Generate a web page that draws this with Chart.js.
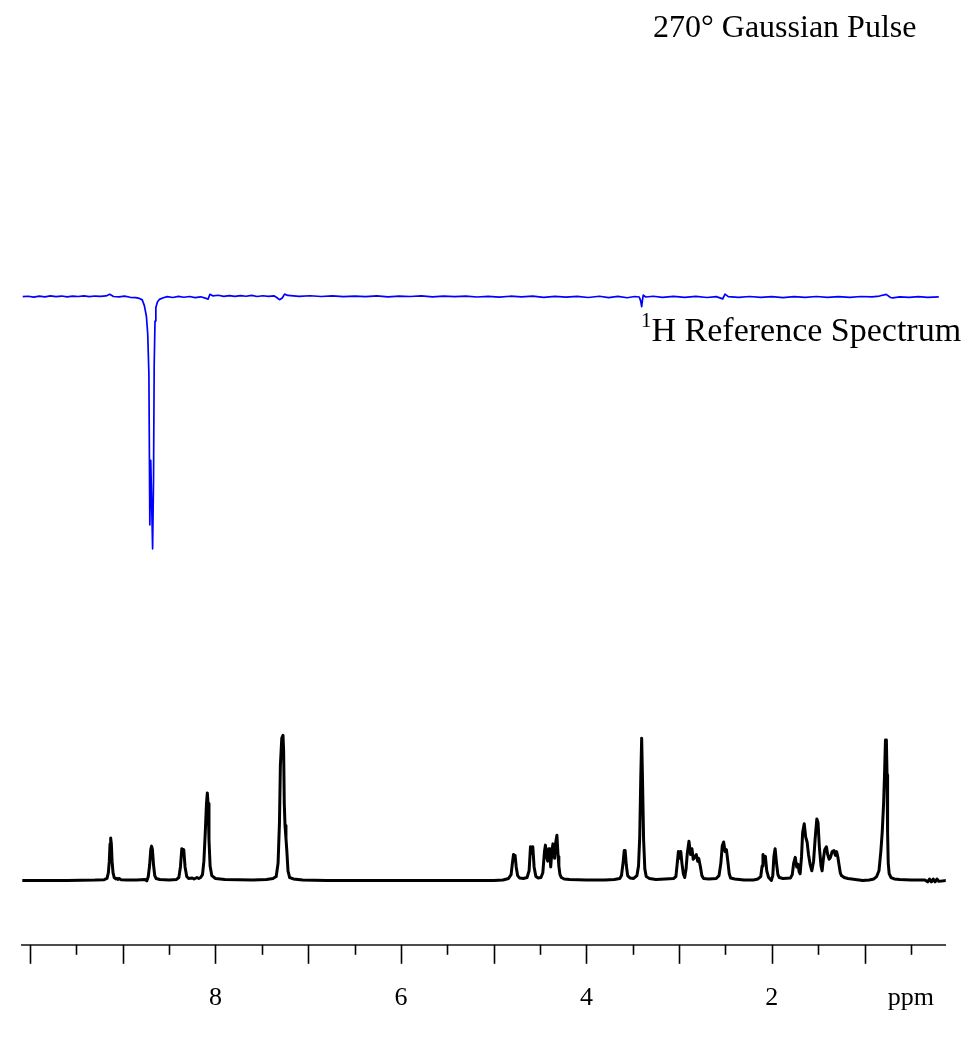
<!DOCTYPE html>
<html>
<head>
<meta charset="utf-8">
<title>270° Gaussian Pulse vs 1H Reference Spectrum</title>
<script src="https://cdn.jsdelivr.net/npm/chart.js@4.4.1/dist/chart.umd.min.js"></script>
<style>
  html, body { margin: 0; padding: 0; background: #fff; }
  #wrap { position: relative; width: 964px; height: 1046px; }
  .label {
    position: absolute;
    font-family: "Liberation Serif", "Times New Roman", serif;
    font-size: 32px;
    line-height: 1;
    color: #000;
    white-space: nowrap;
  }
  .label sup { font-size: 21px; line-height: 0; position: relative; top: -2px; vertical-align: super; }
  #pulseLabel { left: 653px; top: 10px; }
  #refLabel   { left: 641px; top: 313px; font-size: 34px; }
</style>
</head>
<body>
<div id="wrap">
  <canvas id="nmrChart"></canvas>
  <div class="label" id="pulseLabel">270° Gaussian Pulse</div>
  <div class="label" id="refLabel"><sup>1</sup>H Reference Spectrum</div>
</div>

<script>
// ppm axis
const ppmMin = 0.125;
const ppmMax = 10.083;
const labeledTicks = [8, 6, 4, 2];
const unitTick  = 0.5;
const unitLabel = 'ppm';

// 1H reference spectrum, [ppm, intensity]
const refPoints = [
  [10.1, 0], [9.6, 0], [9.3, 0.3], [9.2, 0.8], [9.17, 2], [9.155, 8], [9.145, 20], [9.137, 38],
  [9.13, 44], [9.123, 38], [9.115, 20], [9.105, 8], [9.092, 3], [9.075, 1.5], [9.062, 2.2],
  [9.05, 1], [9.038, 2], [9.02, 0.8], [8.95, 0.5], [8.85, 0.5], [8.76, 1], [8.74, -0.5],
  [8.725, 4], [8.71, 16], [8.698, 32], [8.689, 35.7], [8.68, 32], [8.668, 16], [8.655, 5],
  [8.64, 2], [8.6, 1], [8.5, 0.5], [8.42, 1], [8.395, 3], [8.378, 14], [8.363, 33], [8.352, 28],
  [8.342, 32], [8.328, 14], [8.31, 4], [8.29, 2], [8.25, 2.5], [8.23, 1.5], [8.2, 3], [8.18, 2],
  [8.16, 3], [8.14, 6], [8.125, 20], [8.11, 50], [8.097, 80], [8.088, 91], [8.08, 80], [8.07, 42],
  [8.058, 15], [8.04, 5], [8.0, 2], [7.9, 1], [7.6, 0.5], [7.45, 1], [7.38, 2], [7.345, 4],
  [7.325, 18], [7.31, 60], [7.3, 120], [7.285, 148], [7.272, 151], [7.265, 135], [7.258, 80],
  [7.25, 57], [7.24, 44], [7.23, 30], [7.218, 10], [7.2, 3], [7.16, 1.5], [7.06, 0.5], [6.8, 0],
  [5.0, 0], [4.9, 0.5], [4.84, 2], [4.812, 6], [4.798, 18], [4.786, 27], [4.778, 23], [4.769, 26],
  [4.757, 14], [4.742, 5], [4.72, 2.5], [4.68, 2], [4.64, 3], [4.618, 10], [4.603, 35], [4.59, 28],
  [4.578, 35], [4.564, 14], [4.545, 4], [4.52, 2.5], [4.49, 3], [4.47, 8], [4.452, 30], [4.442, 36.7],
  [4.43, 25], [4.417, 20], [4.405, 33], [4.396, 33], [4.385, 14], [4.372, 30], [4.361, 38],
  [4.35, 25], [4.343, 23], [4.33, 40], [4.318, 47], [4.305, 25], [4.297, 15], [4.285, 6], [4.27, 3],
  [4.24, 1.5], [4.18, 1], [4.0, 0.5], [3.8, 0.5], [3.7, 1], [3.64, 2], [3.622, 5], [3.605, 18],
  [3.592, 31], [3.582, 31], [3.57, 16], [3.555, 5], [3.53, 2.5], [3.49, 2], [3.455, 5], [3.438, 15],
  [3.425, 45], [3.414, 105], [3.404, 148], [3.395, 105], [3.383, 42], [3.37, 12], [3.355, 4],
  [3.32, 2], [3.25, 1], [3.15, 1.5], [3.06, 2], [3.035, 4], [3.018, 20], [3.008, 30], [2.995, 23],
  [2.982, 30], [2.97, 18], [2.955, 7], [2.94, 3], [2.925, 12], [2.912, 28], [2.894, 40.7],
  [2.877, 27], [2.862, 33], [2.848, 22], [2.834, 24], [2.815, 27], [2.8, 20], [2.789, 23],
  [2.77, 14], [2.755, 5], [2.736, 2], [2.68, 1.5], [2.6, 2], [2.57, 5], [2.55, 18], [2.535, 36],
  [2.52, 40], [2.505, 30], [2.49, 32], [2.475, 20], [2.46, 7], [2.445, 2.5], [2.4, 1.5], [2.3, 0.5],
  [2.2, 0.5], [2.15, 1.5], [2.12, 4], [2.105, 15], [2.096, 27], [2.085, 20], [2.07, 25], [2.055, 10],
  [2.035, 3], [2.005, 0], [1.99, 5], [1.978, 25], [1.965, 33], [1.95, 18], [1.935, 6], [1.92, 3],
  [1.88, 2], [1.8, 2.5], [1.78, 6], [1.765, 18], [1.748, 24], [1.732, 14], [1.718, 16.7], [1.706, 9],
  [1.695, 7], [1.68, 25], [1.668, 50], [1.651, 59], [1.635, 45], [1.62, 40], [1.605, 27], [1.588, 17],
  [1.569, 10], [1.55, 20], [1.532, 45], [1.515, 64], [1.502, 60], [1.488, 35], [1.47, 15], [1.458, 10],
  [1.445, 22], [1.43, 32], [1.412, 35], [1.398, 27], [1.382, 22], [1.368, 24], [1.35, 30], [1.33, 31],
  [1.315, 26], [1.302, 30], [1.288, 24], [1.277, 17], [1.262, 8], [1.25, 5], [1.22, 3], [1.18, 2],
  [1.1, 1], [1.02, 0], [0.95, 0.5], [0.9, 1.5], [0.87, 4], [0.845, 10], [0.825, 30], [0.81, 50],
  [0.795, 80], [0.785, 110], [0.775, 146], [0.765, 146], [0.758, 110], [0.752, 50], [0.745, 18],
  [0.735, 7], [0.715, 3], [0.68, 1.5], [0.62, 1], [0.5, 0.5], [0.35, 0.5], [0.32, -1.5], [0.3, 1.5],
  [0.28, -1.5], [0.26, 1.5], [0.24, -1.5], [0.22, 1.5], [0.2, -1], [0.12, 0]
];

// 270 deg gaussian pulse trace, [ppm, intensity]
const pulsePoints = [
  [10.08, 0.3], [10.02, 0.8], [9.96, -0.2], [9.9, 0.9], [9.84, 0.2], [9.78, 1.1], [9.72, 0.4],
  [9.66, 1], [9.6, 0.1], [9.54, 0.9], [9.48, 0.5], [9.42, 1.2], [9.36, 0.3], [9.3, 1], [9.24, 0.6],
  [9.18, 1.1], [9.14, 2.8], [9.1, 0.5], [9.04, 0.2], [8.98, 0.9], [8.92, -0.3], [8.86, -0.6],
  [8.82, -1.5], [8.79, -3], [8.767, -9], [8.745, -20], [8.731, -38], [8.718, -80], [8.708, -237],
  [8.698, -170], [8.688, -215], [8.678, -262], [8.668, -190], [8.661, -71], [8.652, -25],
  [8.643, -11], [8.625, -5], [8.605, -2.5], [8.57, -1], [8.52, 0.4], [8.46, -0.5], [8.4, 0.6],
  [8.34, -0.3], [8.28, 0.5], [8.22, -0.6], [8.16, 0.2], [8.1, -1.5], [8.08, -2.2], [8.06, 2.8],
  [8.03, 1.2], [7.97, 1.8], [7.91, 0.7], [7.85, 1.5], [7.79, 0.6], [7.73, 1.4], [7.67, 0.8],
  [7.61, 1.6], [7.55, 0.5], [7.49, 1.3], [7.43, 0.7], [7.37, 1.2], [7.34, -0.5], [7.31, -2.8],
  [7.28, -1], [7.255, 3], [7.22, 1.6], [7.16, 1.2], [7.1, 0.6], [6.98, 1.3], [6.86, 0.5],
  [6.74, 1.1], [6.62, 0.3], [6.5, 1], [6.38, 0.4], [6.26, 1.2], [6.14, 0.2], [6.02, 0.9],
  [5.9, 0.5], [5.78, 1.1], [5.66, 0.1], [5.54, 0.8], [5.42, 0.3], [5.3, 1], [5.18, 0],
  [5.06, 0.7], [4.94, -0.2], [4.82, 0.8], [4.7, 0.1], [4.58, 0.9], [4.46, -0.3], [4.34, 0.6],
  [4.22, -0.2], [4.1, 0.7], [3.98, -0.5], [3.86, 0.8], [3.76, -0.6], [3.66, 0.6], [3.56, -0.8],
  [3.48, 0.5], [3.43, 0], [3.415, -4], [3.404, -10], [3.395, -3], [3.387, 2], [3.36, 0],
  [3.28, 0.8], [3.18, -0.4], [3.06, 0.6], [2.94, -0.3], [2.82, 0.7], [2.7, -0.5], [2.6, 0.4],
  [2.53, -2], [2.505, 3], [2.47, 0.4], [2.36, -0.4], [2.24, 0.5], [2.12, -0.3], [2.0, 0.4],
  [1.88, -0.6], [1.76, 0.3], [1.64, -0.4], [1.52, 0.5], [1.4, -0.3], [1.28, 0.4], [1.16, -0.4],
  [1.04, 0.5], [0.92, 0.2], [0.84, 1], [0.767, 2.7], [0.72, -0.5], [0.697, -1], [0.62, 0.2],
  [0.52, -0.4], [0.42, 0.4], [0.32, -0.3], [0.2, 0.2]
];

const serif = '"Liberation Serif", "Times New Roman", serif';

const tickMarks = {
  id: 'tickMarks',
  afterDraw(chart) {
    const xs = chart.scales.x;
    const ctx = chart.ctx;
    ctx.save();
    ctx.strokeStyle = '#000';
    ctx.lineWidth = 1.6;
    xs.ticks.forEach(t => {
      const px = Math.round(xs.getPixelForValue(t.value)) + 0.5;
      const len = Number.isInteger(t.value) ? 19 : 10;
      ctx.beginPath();
      ctx.moveTo(px, xs.top);
      ctx.lineTo(px, xs.top + len);
      ctx.stroke();
    });
    ctx.restore();
  }
};

new Chart(document.getElementById('nmrChart'), {
  type: 'line',
  data: {
    datasets: [
      {
        label: '1H Reference Spectrum',
        data: refPoints.map(([x, y]) => ({ x, y })),
        yAxisID: 'yRef',
        borderColor: '#000',
        borderWidth: 3,
        borderJoinStyle: 'round',
        pointRadius: 0,
        tension: 0,
      },
      {
        label: '270° Gaussian Pulse',
        data: pulsePoints.map(([x, y]) => ({ x, y })),
        yAxisID: 'yPulse',
        borderColor: '#0000ff',
        borderWidth: 1.7,
        borderJoinStyle: 'round',
        pointRadius: 0,
        tension: 0,
      }
    ]
  },
  options: {
    responsive: true, maintainAspectRatio: false,
    animation: false,
    events: [],
    layout: { padding: { left: 13.5, right: 7, top: 0, bottom: 2 } },
    plugins: { legend: { display: false }, tooltip: { enabled: false } },
    scales: {
      x: {
        type: 'linear',
        reverse: true,
        min: ppmMin,
        max: ppmMax,
        grid: { display: false },
        border: { display: true, color: '#4d4d4d', width: 2 },
        ticks: {
          stepSize: 0.5,
          includeBounds: false,
          autoSkip: false,
          maxRotation: 0,
          padding: 30,
          color: '#000',
          font: { family: serif, size: 26 },
          callback: v => {
            if (labeledTicks.includes(v)) return String(v);
            if (v === unitTick) return unitLabel;
            return '';
          }
        }
      },
      yRef:   { display: false, min: -67,  max: 916 },
      yPulse: { display: false, min: -674, max: 309 }
    }
  },
  plugins: [tickMarks]
});
</script>
</body>
</html>
